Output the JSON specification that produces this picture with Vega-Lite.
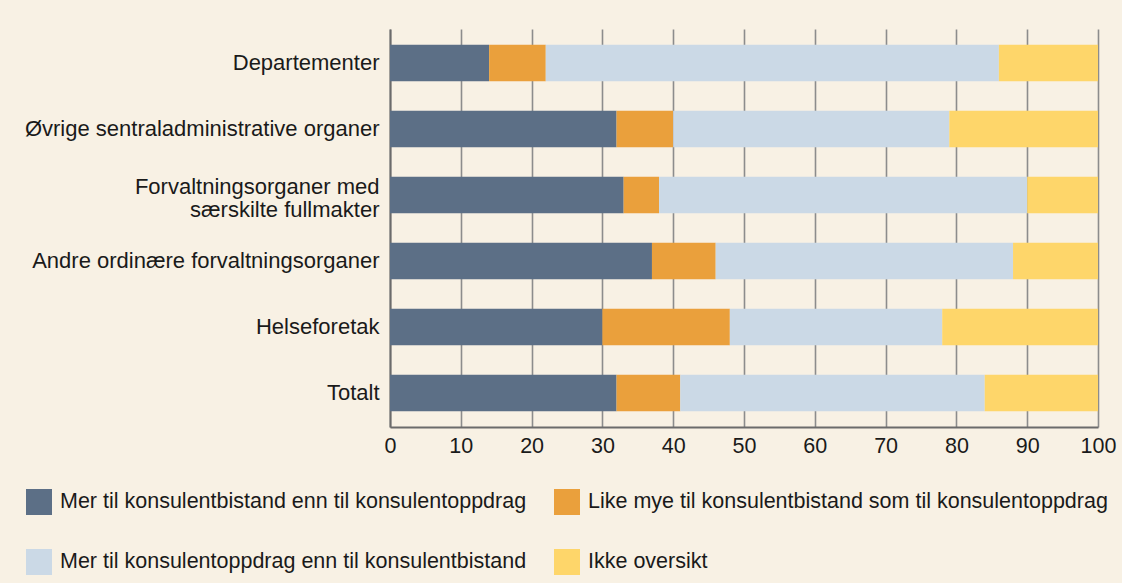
{
  "$schema": "https://vega.github.io/schema/vega-lite/v6.json",
  "autosize": {"type": "none"},
  "padding": {"left": 390, "top": 29, "right": 24, "bottom": 156},
  "width": 708,
  "height": 398,
  "background": "#f8f1e4",
  "config": {
    "view": {"stroke": null},
    "font": "Liberation Sans",
    "axis": {"labelFont": "Liberation Sans", "labelColor": "#1a1a1a"},
    "legend": {"labelFont": "Liberation Sans", "labelColor": "#1a1a1a"}
  },
  "data": {
    "values": [
      {"kategori": "Departementer", "svar": "Mer til konsulentbistand enn til konsulentoppdrag", "k": 1, "andel": 14},
      {"kategori": "Departementer", "svar": "Like mye til konsulentbistand som til konsulentoppdrag", "k": 2, "andel": 8},
      {"kategori": "Departementer", "svar": "Mer til konsulentoppdrag enn til konsulentbistand", "k": 3, "andel": 64},
      {"kategori": "Departementer", "svar": "Ikke oversikt", "k": 4, "andel": 14},
      {"kategori": "Øvrige sentraladministrative organer", "svar": "Mer til konsulentbistand enn til konsulentoppdrag", "k": 1, "andel": 32},
      {"kategori": "Øvrige sentraladministrative organer", "svar": "Like mye til konsulentbistand som til konsulentoppdrag", "k": 2, "andel": 8},
      {"kategori": "Øvrige sentraladministrative organer", "svar": "Mer til konsulentoppdrag enn til konsulentbistand", "k": 3, "andel": 39},
      {"kategori": "Øvrige sentraladministrative organer", "svar": "Ikke oversikt", "k": 4, "andel": 21},
      {"kategori": "Forvaltningsorganer med særskilte fullmakter", "svar": "Mer til konsulentbistand enn til konsulentoppdrag", "k": 1, "andel": 33},
      {"kategori": "Forvaltningsorganer med særskilte fullmakter", "svar": "Like mye til konsulentbistand som til konsulentoppdrag", "k": 2, "andel": 5},
      {"kategori": "Forvaltningsorganer med særskilte fullmakter", "svar": "Mer til konsulentoppdrag enn til konsulentbistand", "k": 3, "andel": 52},
      {"kategori": "Forvaltningsorganer med særskilte fullmakter", "svar": "Ikke oversikt", "k": 4, "andel": 10},
      {"kategori": "Andre ordinære forvaltningsorganer", "svar": "Mer til konsulentbistand enn til konsulentoppdrag", "k": 1, "andel": 37},
      {"kategori": "Andre ordinære forvaltningsorganer", "svar": "Like mye til konsulentbistand som til konsulentoppdrag", "k": 2, "andel": 9},
      {"kategori": "Andre ordinære forvaltningsorganer", "svar": "Mer til konsulentoppdrag enn til konsulentbistand", "k": 3, "andel": 42},
      {"kategori": "Andre ordinære forvaltningsorganer", "svar": "Ikke oversikt", "k": 4, "andel": 12},
      {"kategori": "Helseforetak", "svar": "Mer til konsulentbistand enn til konsulentoppdrag", "k": 1, "andel": 30},
      {"kategori": "Helseforetak", "svar": "Like mye til konsulentbistand som til konsulentoppdrag", "k": 2, "andel": 18},
      {"kategori": "Helseforetak", "svar": "Mer til konsulentoppdrag enn til konsulentbistand", "k": 3, "andel": 30},
      {"kategori": "Helseforetak", "svar": "Ikke oversikt", "k": 4, "andel": 22},
      {"kategori": "Totalt", "svar": "Mer til konsulentbistand enn til konsulentoppdrag", "k": 1, "andel": 32},
      {"kategori": "Totalt", "svar": "Like mye til konsulentbistand som til konsulentoppdrag", "k": 2, "andel": 9},
      {"kategori": "Totalt", "svar": "Mer til konsulentoppdrag enn til konsulentbistand", "k": 3, "andel": 43},
      {"kategori": "Totalt", "svar": "Ikke oversikt", "k": 4, "andel": 16}
    ]
  },
  "mark": {"type": "bar"},
  "encoding": {
    "y": {
      "field": "kategori",
      "type": "nominal",
      "sort": null,
      "scale": {"paddingInner": 0.45, "paddingOuter": 0.24},
      "axis": {
        "title": null,
        "ticks": false,
        "labelPadding": 11,
        "labelFontSize": 22,
        "labelLimit": 500,
        "labelLineHeight": 23,
        "labelOffset": {"condition": {"test": "datum.value == 'Forvaltningsorganer med særskilte fullmakter'", "value": -8}, "value": 0},
        "domainColor": "#6b6b6b",
        "domainWidth": 2,
        "labelExpr": "datum.label == 'Forvaltningsorganer med særskilte fullmakter' ? ['Forvaltningsorganer med', 'særskilte fullmakter'] : datum.label"
      }
    },
    "x": {
      "field": "andel",
      "type": "quantitative",
      "stack": "zero",
      "scale": {"domain": [0, 100], "nice": false},
      "axis": {
        "title": null,
        "values": [0, 10, 20, 30, 40, 50, 60, 70, 80, 90, 100],
        "ticks": false,
        "labelPadding": 8,
        "labelFontSize": 21.5,
        "labelFlush": false,
        "grid": true,
        "gridColor": "#8c8c8c",
        "gridWidth": 1.6,
        "gridOpacity": 1,
        "domainColor": "#6b6b6b",
        "domainWidth": 2
      }
    },
    "order": {"field": "k", "type": "quantitative"},
    "color": {
      "field": "svar",
      "type": "nominal",
      "scale": {
        "domain": [
          "Mer til konsulentbistand enn til konsulentoppdrag",
          "Like mye til konsulentbistand som til konsulentoppdrag",
          "Mer til konsulentoppdrag enn til konsulentbistand",
          "Ikke oversikt"
        ],
        "range": ["#5c6f86", "#eaa03c", "#cbd9e6", "#fed66a"]
      },
      "legend": {
        "title": null,
        "orient": "none",
        "legendX": -364,
        "legendY": 460,
        "direction": "horizontal",
        "columns": 2,
        "padding": 0,
        "columnPadding": 27,
        "rowPadding": 34,
        "symbolType": "square",
        "symbolSize": 676,
        "symbolStrokeWidth": 0,
        "symbolOpacity": 1,
        "labelOffset": 8,
        "labelFontSize": 21.5,
        "labelLimit": 600
      }
    }
  }
}
